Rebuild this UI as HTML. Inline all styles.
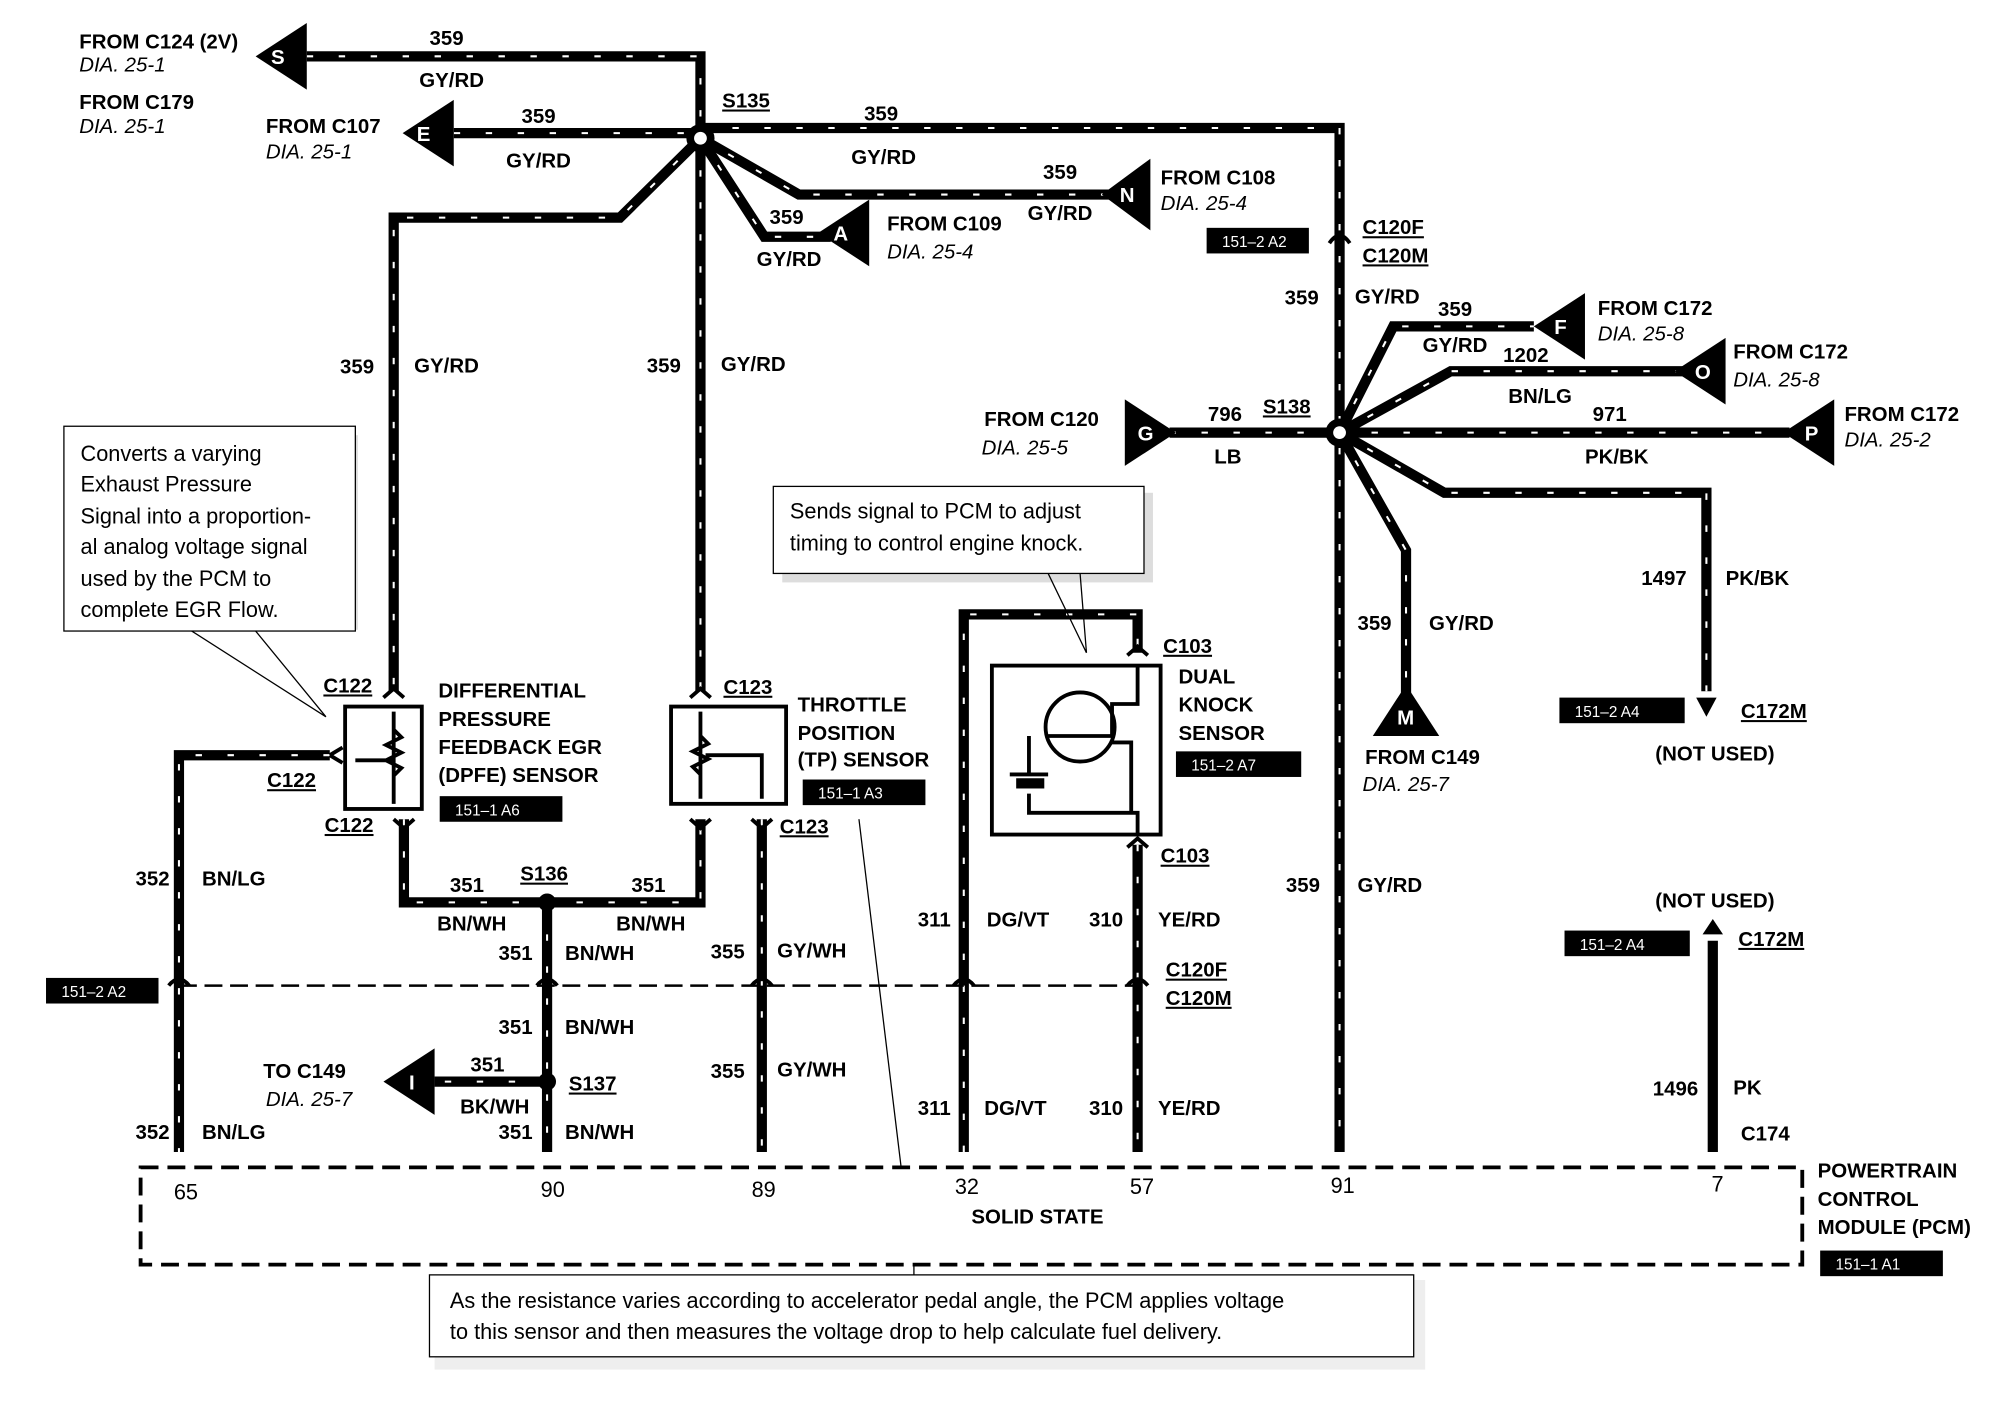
<!DOCTYPE html>
<html><head><meta charset="utf-8"><style>
html,body{margin:0;padding:0;background:#fff;}
svg{display:block}
text{font-family:"Liberation Sans",sans-serif;font-weight:bold;font-size:16px;fill:#000}
.i{font-style:italic;font-weight:normal}
.n{font-weight:normal;font-size:17px}
.w{fill:none;stroke:#000;stroke-width:8;stroke-linejoin:miter}
.d{fill:none;stroke:#fff;stroke-width:1.6;stroke-dasharray:5 20}
.t{fill:none;stroke:#000;stroke-width:3}
.bx text{fill:#fff;font-weight:normal;font-size:12px}
</style></head><body>
<svg width="1994" height="1408" viewBox="0 0 1560 1100" preserveAspectRatio="none">
<g id="wires">
<path class="w" d="M240,44 H548 V108"/>
<path class="w" d="M355,104 H548"/>
<path class="w" d="M548,100 H1048 V900"/>
<path class="w" d="M548,108 L625,152 H870"/>
<path class="w" d="M548,108 L598,185 H650"/>
<path class="w" d="M548,108 V540"/>
<path class="w" d="M548,108 L485,170 H308 V540"/>
<path class="w" d="M258,590 H140 V900"/>
<path class="w" d="M316,640 V705 H548 V640"/>
<path class="w" d="M428,705 V900"/>
<path class="w" d="M428,845 H340"/>
<path class="w" d="M596,640 V900"/>
<path class="w" d="M754,900 V480 H890 V510"/>
<path class="w" d="M890,660 V900"/>
<path class="w" d="M915,338 H1048"/>
<path class="w" d="M1048,338 L1090,255 H1200"/>
<path class="w" d="M1048,338 L1135,290 H1320"/>
<path class="w" d="M1048,338 H1400"/>
<path class="w" d="M1048,338 L1130,385 H1335 V540"/>
<path class="w" d="M1048,338 L1100,430 V550"/>
<path class="w" d="M1340,900 V735"/>
</g>
<g>
<path class="d" d="M240,44 H548 V108 M355,104 H548 M548,100 H1048 V900 M548,108 L625,152 H870 M548,108 L598,185 H650 M548,108 V540 M548,108 L485,170 H308 V540 M258,590 H140 V900 M316,640 V705 H548 V640 M428,705 V900 M428,845 H340 M596,640 V900 M754,900 V480 H890 V510 M890,660 V900 M915,338 H1048 M1048,338 L1090,255 H1200 M1048,338 L1135,290 H1320 M1048,338 H1400 M1048,338 L1130,385 H1335 V540 M1048,338 L1100,430 V550"/>
</g>
<circle cx="548" cy="108" r="11" fill="#000"/><circle cx="548" cy="108" r="5" fill="#fff"/>
<circle cx="1048" cy="338" r="11" fill="#000"/><circle cx="1048" cy="338" r="5" fill="#fff"/>
<circle cx="428" cy="705" r="7" fill="#000"/><circle cx="428" cy="845" r="7" fill="#000"/>
<polygon points="200,44 240,18 240,70" fill="#000"/><text x="212" y="50" style="fill:#fff">S</text>
<polygon points="315,104 355,78 355,130" fill="#000"/><text x="326" y="110" style="fill:#fff">E</text>
<polygon points="862,152 900,124 900,180" fill="#000"/><text x="876" y="158" style="fill:#fff">N</text>
<polygon points="640,182 680,156 680,208" fill="#000"/><text x="652" y="188" style="fill:#fff">A</text>
<polygon points="1200,255 1240,229 1240,281" fill="#000"/><text x="1216" y="261" style="fill:#fff">F</text>
<polygon points="1310,290 1350,264 1350,316" fill="#000"/><text x="1326" y="296" style="fill:#fff">O</text>
<polygon points="1395,338 1435,312 1435,364" fill="#000"/><text x="1412" y="344" style="fill:#fff">P</text>
<polygon points="880,312 920,338 880,364" fill="#000"/><text x="890" y="344" style="fill:#fff">G</text>
<polygon points="1100,535 1074,575 1126,575" fill="#000"/><text x="1093" y="566" style="fill:#fff">M</text>
<polygon points="300,845 340,819 340,871" fill="#000"/><text x="320" y="851" style="fill:#fff">I</text>
<polygon points="1327,545 1343,545 1335,560" fill="#000"/>
<polygon points="1332,730 1348,730 1340,718" fill="#000"/>
<g class="t">
<path d="M1040,190 Q1048,178 1056,190"/>
<path d="M132,770 Q140,760 148,770 M420,770 Q428,760 436,770 M588,770 Q596,760 604,770 M746,770 Q754,760 762,770 M882,770 Q890,760 898,770"/>
<path d="M300,545 L308,538 L316,545 M540,545 L548,538 L556,545 M308,640 L316,647 L324,640 M540,640 L548,647 L556,640 M588,640 L596,647 L604,640 M882,512 L890,505 L898,512 M882,662 L890,655 L898,662"/>
</g>
<path d="M140,770 H890" stroke="#000" stroke-width="2" stroke-dasharray="14 6" fill="none"/>
<rect x="110" y="912" width="1300" height="76" fill="none" stroke="#000" stroke-width="3" stroke-dasharray="14 7"/>
<rect x="270" y="552" width="60" height="80" fill="none" stroke="#000" stroke-width="3"/>
<path d="M308,556 V628 M308,570 l6,6 -12,6 12,6 -12,6 12,6 -6,6 M308,594 H278 M258,590 l10,-6 M258,590 l10,6" class="t" stroke-width="2"/>
<rect x="525" y="552" width="90" height="76" fill="none" stroke="#000" stroke-width="3"/>
<path d="M548,556 V624 M548,575 l6,6 -12,6 12,6 -12,6 6,6 M552,590 H596 V624" class="t" stroke-width="2"/>
<rect x="776" y="520" width="132" height="132" fill="none" stroke="#000" stroke-width="3"/>
<circle cx="845" cy="568" r="27" fill="none" stroke="#000" stroke-width="3"/>
<path d="M820,575 H870 V550 H890 V520 M805,575 V605 M790,605 H820 M805,620 V635 H890 V652 M870,580 H885 V635" class="t" stroke-width="2"/>
<rect x="795" y="608" width="22" height="8" fill="#000"/>
<rect x="58" y="340" width="222" height="152" fill="#ddd"/>
<rect x="50" y="333" width="228" height="160" fill="#fff" stroke="#000" stroke-width="1"/>
<text class="n" x="63" y="360">Converts a varying</text>
<text class="n" x="63" y="384">Exhaust Pressure</text>
<text class="n" x="63" y="409">Signal into a proportion-</text>
<text class="n" x="63" y="433">al analog voltage signal</text>
<text class="n" x="63" y="458">used by the PCM to</text>
<text class="n" x="63" y="482">complete EGR Flow.</text>
<path d="M150,493 L255,560 M200,493 L255,560" stroke="#000" stroke-width="1"/>
<rect x="612" y="385" width="290" height="70" fill="#ddd"/>
<rect x="605" y="380" width="290" height="68" fill="#fff" stroke="#000" stroke-width="1"/>
<text class="n" x="618" y="405">Sends signal to PCM to adjust</text>
<text class="n" x="618" y="430">timing to control engine knock.</text>
<path d="M820,448 L850,510 M845,448 L850,510" stroke="#000" stroke-width="1"/>
<rect x="340" y="1000" width="775" height="70" fill="#eee"/>
<rect x="336" y="996" width="770" height="64" fill="#fff" stroke="#000" stroke-width="1"/>
<text class="n" x="352" y="1022">As the resistance varies according to accelerator pedal angle, the PCM applies voltage</text>
<text class="n" x="352" y="1046">to this sensor and then measures the voltage drop to help calculate fuel delivery.</text>
<path d="M672,640 L705,912 M715,988 V996" stroke="#000" stroke-width="1"/>
<g class="bx">
<rect x="944" y="178" width="80" height="20"/><text x="956" y="193">151–2 A2</text>
<rect x="344" y="622" width="96" height="20"/><text x="356" y="637">151–1 A6</text>
<rect x="628" y="609" width="96" height="20"/><text x="640" y="624">151–1 A3</text>
<rect x="920" y="587" width="98" height="20"/><text x="932" y="602">151–2 A7</text>
<rect x="36" y="764" width="88" height="20"/><text x="48" y="779">151–2 A2</text>
<rect x="1220" y="545" width="98" height="20"/><text x="1232" y="560">151–2 A4</text>
<rect x="1224" y="727" width="98" height="20"/><text x="1236" y="742">151–2 A4</text>
<rect x="1424" y="977" width="96" height="20"/><text x="1436" y="992">151–1 A1</text>
</g>
<text x="62" y="38">FROM C124 (2V)</text><text class="i" x="62" y="56">DIA. 25-1</text>
<text x="62" y="85">FROM C179</text><text class="i" x="62" y="104">DIA. 25-1</text>
<text x="208" y="104">FROM C107</text><text class="i" x="208" y="124">DIA. 25-1</text>
<text x="336" y="35">359</text><text x="328" y="68">GY/RD</text>
<text x="408" y="96">359</text><text x="396" y="131">GY/RD</text>
<text x="565" y="84" text-decoration="underline">S135</text>
<text x="676" y="94">359</text><text x="666" y="128">GY/RD</text>
<text x="816" y="140">359</text><text x="804" y="172">GY/RD</text>
<text x="908" y="144">FROM C108</text><text class="i" x="908" y="164">DIA. 25-4</text>
<text x="602" y="175">359</text><text x="592" y="208">GY/RD</text>
<text x="694" y="180">FROM C109</text><text class="i" x="694" y="202">DIA. 25-4</text>
<text x="266" y="292">359</text><text x="324" y="291">GY/RD</text>
<text x="506" y="291">359</text><text x="564" y="290">GY/RD</text>
<text x="1066" y="183" text-decoration="underline">C120F</text><text x="1066" y="205" text-decoration="underline">C120M</text>
<text x="1005" y="238">359</text><text x="1060" y="237">GY/RD</text>
<text x="1125" y="247">359</text><text x="1113" y="275">GY/RD</text>
<text x="1250" y="246">FROM C172</text><text class="i" x="1250" y="266">DIA. 25-8</text>
<text x="1176" y="283">1202</text><text x="1180" y="315">BN/LG</text>
<text x="1356" y="280">FROM C172</text><text class="i" x="1356" y="302">DIA. 25-8</text>
<text x="1246" y="329">971</text><text x="1240" y="362">PK/BK</text>
<text x="1443" y="329">FROM C172</text><text class="i" x="1443" y="349">DIA. 25-2</text>
<text x="770" y="333">FROM C120</text><text class="i" x="768" y="355">DIA. 25-5</text>
<text x="945" y="329">796</text><text x="950" y="362">LB</text><text x="988" y="323" text-decoration="underline">S138</text>
<text x="1284" y="457">1497</text><text x="1350" y="457">PK/BK</text>
<text x="1062" y="492">359</text><text x="1118" y="492">GY/RD</text>
<text x="1362" y="561" text-decoration="underline">C172M</text><text x="1295" y="594">(NOT USED)</text>
<text x="1068" y="597">FROM C149</text><text class="i" x="1066" y="618">DIA. 25-7</text>
<text x="1295" y="709">(NOT USED)</text><text x="1360" y="739" text-decoration="underline">C172M</text>
<text x="1006" y="697">359</text><text x="1062" y="697">GY/RD</text>
<text x="253" y="541" text-decoration="underline">C122</text>
<text x="343" y="545">DIFFERENTIAL</text><text x="343" y="567">PRESSURE</text><text x="343" y="589">FEEDBACK EGR</text><text x="343" y="611">(DPFE) SENSOR</text>
<text x="209" y="615" text-decoration="underline">C122</text>
<text x="254" y="650" text-decoration="underline">C122</text>
<text x="566" y="542" text-decoration="underline">C123</text>
<text x="624" y="556">THROTTLE</text><text x="624" y="578">POSITION</text><text x="624" y="599">(TP) SENSOR</text>
<text x="610" y="651" text-decoration="underline">C123</text>
<text x="910" y="510" text-decoration="underline">C103</text>
<text x="922" y="534">DUAL</text><text x="922" y="556">KNOCK</text><text x="922" y="578">SENSOR</text>
<text x="908" y="674" text-decoration="underline">C103</text>
<text x="106" y="692">352</text><text x="158" y="692">BN/LG</text>
<text x="352" y="697">351</text><text x="407" y="688" text-decoration="underline">S136</text><text x="494" y="697">351</text>
<text x="342" y="727">BN/WH</text><text x="482" y="727">BN/WH</text>
<text x="390" y="750">351</text><text x="442" y="750">BN/WH</text>
<text x="556" y="749">355</text><text x="608" y="748">GY/WH</text>
<text x="718" y="724">311</text><text x="772" y="724">DG/VT</text>
<text x="852" y="724">310</text><text x="906" y="724">YE/RD</text>
<text x="912" y="763" text-decoration="underline">C120F</text><text x="912" y="785" text-decoration="underline">C120M</text>
<text x="390" y="808">351</text><text x="442" y="808">BN/WH</text>
<text x="206" y="842">TO C149</text><text class="i" x="208" y="864">DIA. 25-7</text>
<text x="368" y="837">351</text><text x="445" y="852" text-decoration="underline">S137</text>
<text x="360" y="870">BK/WH</text>
<text x="556" y="842">355</text><text x="608" y="841">GY/WH</text>
<text x="718" y="871">311</text><text x="770" y="871">DG/VT</text>
<text x="852" y="871">310</text><text x="906" y="871">YE/RD</text>
<text x="1293" y="856">1496</text><text x="1356" y="855">PK</text>
<text x="1362" y="891">C174</text>
<text x="106" y="890">352</text><text x="158" y="890">BN/LG</text>
<text x="390" y="890">351</text><text x="442" y="890">BN/WH</text>
<text class="n" x="136" y="937">65</text><text class="n" x="423" y="935">90</text><text class="n" x="588" y="935">89</text>
<text class="n" x="747" y="933">32</text><text class="n" x="884" y="933">57</text><text class="n" x="1041" y="932">91</text><text class="n" x="1339" y="931">7</text>
<text x="760" y="956">SOLID STATE</text>
<text x="1422" y="920">POWERTRAIN</text><text x="1422" y="942">CONTROL</text><text x="1422" y="964">MODULE (PCM)</text>
</svg>
</body></html>
